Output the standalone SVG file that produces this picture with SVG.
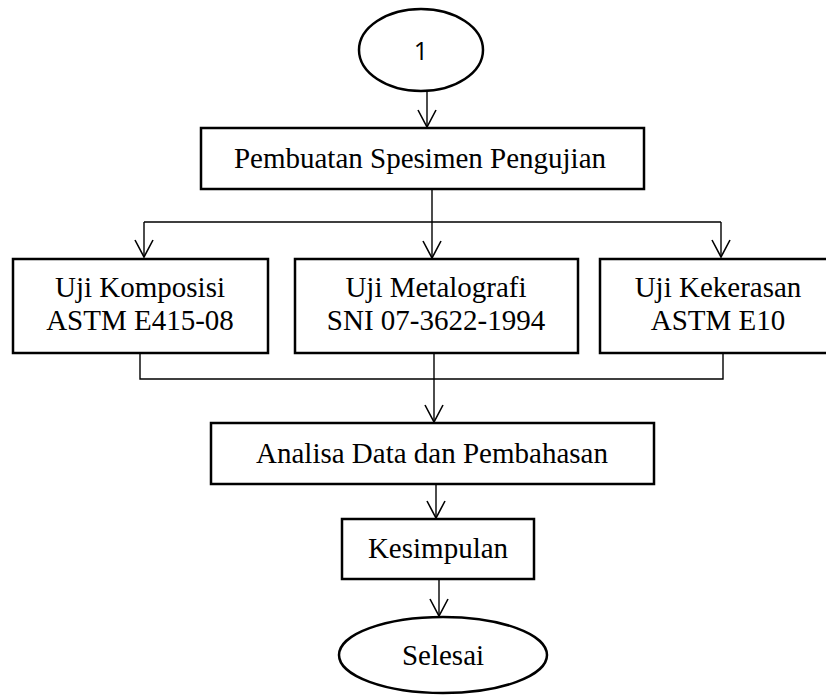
<svg xmlns="http://www.w3.org/2000/svg" width="826" height="695" viewBox="0 0 826 695">
<style>
.box{fill:#fff;stroke:#000;stroke-width:2.5}
.t{font-family:"Liberation Serif","Times New Roman",serif;font-size:29px;fill:#000;text-anchor:middle}
.s{font-family:"Open Sans","Liberation Sans",sans-serif;font-size:25px;fill:#000;text-anchor:middle}
.c{fill:none;stroke:#000;stroke-width:1.4}
</style>
<defs>
<marker id="ah" markerUnits="userSpaceOnUse" markerWidth="24" markerHeight="24" refX="18" refY="10" orient="auto">
<path d="M1,1 L18,10 L1,19" fill="none" stroke="#000" stroke-width="1.6"/>
</marker>
</defs>
<rect width="826" height="695" fill="#fff"/>
<g id="connectors">
<path class="c" d="M427,92 V127" marker-end="url(#ah)"/>
<path class="c" d="M432,189 V222 M144,222 H721"/>
<path class="c" d="M144,222 V257" marker-end="url(#ah)"/>
<path class="c" d="M432,222 V258" marker-end="url(#ah)"/>
<path class="c" d="M721,222 V257" marker-end="url(#ah)"/>
<path class="c" d="M140,354 V379 H723 V354"/>
<path class="c" d="M434,354 V422" marker-end="url(#ah)"/>
<path class="c" d="M436,485 V518" marker-end="url(#ah)"/>
<path class="c" d="M439,580 V616" marker-end="url(#ah)"/>
</g>
<g id="n1">
<ellipse class="box" cx="421" cy="50" rx="62" ry="41"/>
<text class="s" x="421" y="60">1</text>
</g>
<g id="pembuatan">
<rect class="box" x="201" y="128" width="443" height="61"/>
<text class="t" x="420" y="168">Pembuatan Spesimen Pengujian</text>
</g>
<g id="komposisi">
<rect class="box" x="13" y="259" width="255" height="94"/>
<text class="t" x="140" y="297">Uji Komposisi</text>
<text class="t" x="140" y="330">ASTM E415-08</text>
</g>
<g id="metalografi">
<rect class="box" x="295" y="259" width="283" height="94"/>
<text class="t" x="436" y="297">Uji Metalografi</text>
<text class="t" x="436" y="330">SNI 07-3622-1994</text>
</g>
<g id="kekerasan">
<rect class="box" x="600" y="259" width="240" height="94"/>
<text class="t" x="718" y="297">Uji Kekerasan</text>
<text class="t" x="718" y="330">ASTM E10</text>
</g>
<g id="analisa">
<rect class="box" x="211" y="423" width="443" height="61"/>
<text class="t" x="432" y="463">Analisa Data dan Pembahasan</text>
</g>
<g id="kesimpulan">
<rect class="box" x="342" y="519" width="192" height="60"/>
<text class="t" x="438" y="558">Kesimpulan</text>
</g>
<g id="selesai">
<ellipse class="box" cx="443" cy="655" rx="104" ry="38"/>
<text class="t" x="443" y="665">Selesai</text>
</g>
</svg>
